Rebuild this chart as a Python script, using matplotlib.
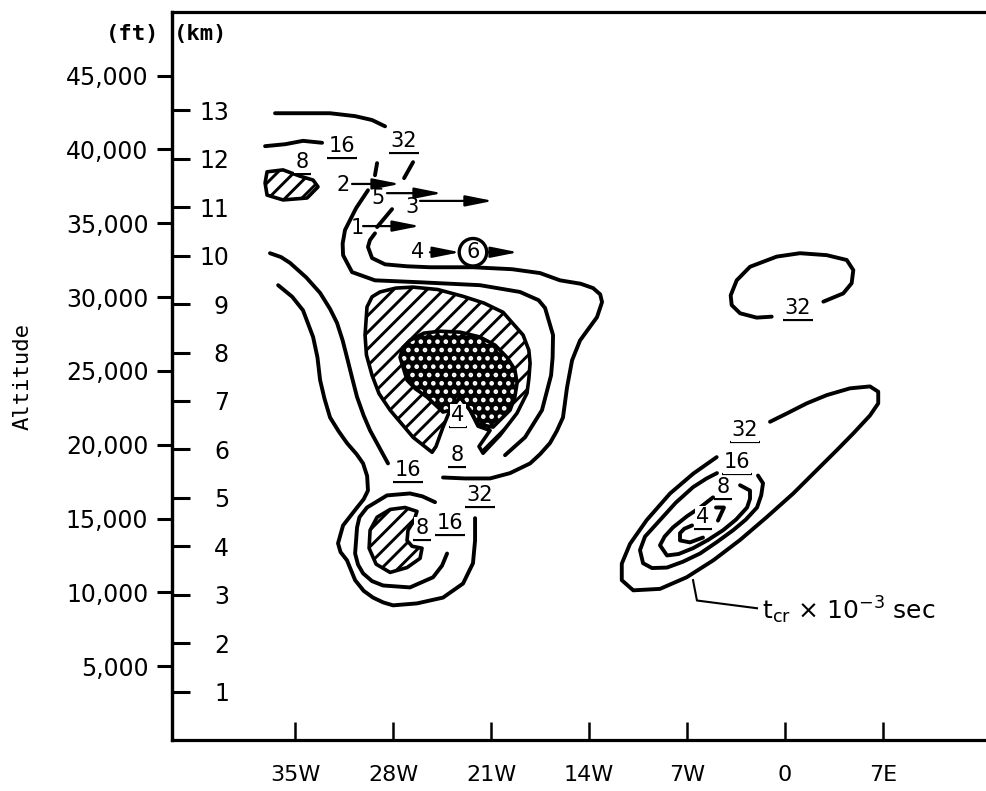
import matplotlib
matplotlib.use("Agg")
import matplotlib.pyplot as plt
from matplotlib.patches import Polygon

# ---------------------------------------------------------------------------
# axis values
# ---------------------------------------------------------------------------
LON_TICKS = [-35, -28, -21, -14, -7, 0, 7]
LON_LABELS = ["35W", "28W", "21W", "14W", "7W", "0", "7E"]
KM_TICKS = list(range(1, 14))
FT_TICKS = [5000, 10000, 15000, 20000, 25000, 30000, 35000, 40000, 45000]
FT_LABELS = ["5,000", "10,000", "15,000", "20,000", "25,000",
             "30,000", "35,000", "40,000", "45,000"]
KM_PER_FT = 0.0003048

# ---------------------------------------------------------------------------
# hand-drawn t_cr isolines, traced as (longitude, altitude km)
# ---------------------------------------------------------------------------
top_line_lon = [-36.43, -34.64, -32.5, -30.71, -29.5, -28.57]
top_line_alt = [12.94, 12.94, 12.94, 12.88, 12.80, 12.67]

upper_line_lon = [-37.14, -35.71, -34.43, -33.07]
upper_line_alt = [12.26, 12.30, 12.37, 12.33]

frag1_lon = [-29.14, -29.29]
frag1_alt = [11.91, 11.66]
frag2_lon = [-26.57, -27.21]
frag2_alt = [11.93, 11.60]
frag3_lon = [-28.07, -29.14]
frag3_alt = [10.96, 10.59]

c32_left_lon = [-36.21, -35.2, -34.43, -33.71, -33.4, -33.21, -32.9, -32.5, -31.9,
                -31.29, -30.6, -30.14, -29.85, -29.79, -30.1, -30.57, -31.57,
                -31.93, -31.75, -31.29, -30.71, -30.1, -29.43, -28.7, -28.0,
                -26.29, -24.43, -23.0, -22.29, -22.14, -22.14]
c32_left_alt = [9.39, 9.15, 8.87, 8.32, 7.9, 7.43, 7.05, 6.66, 6.38,
                6.13, 5.9, 5.71, 5.45, 5.15, 4.97, 4.80, 4.43,
                4.06, 3.88, 3.71, 3.30, 3.08, 2.94, 2.84, 2.78,
                2.82, 2.94, 3.23, 3.65, 4.12, 4.58]

c16_left_lon = [-36.79, -36.0, -35.36, -34.2, -33.21, -32.5, -32.0, -31.6, -31.29,
                -30.9, -30.57, -30.1, -29.64, -29.0, -28.36]
c16_left_alt = [10.05, 9.97, 9.85, 9.55, 9.23, 8.9, 8.61, 8.25, 7.90,
                7.45, 7.08, 6.7, 6.39, 6.05, 5.71]

outer_top_lon = [-29.29, -29.65, -29.79, -29.5, -28.57, -27.0, -25.36, -22.29,
                 -19.5, -17.5, -16.07, -14.6, -13.71, -13.2, -13.07, -13.43,
                 -14.64, -15.21, -15.57, -15.86, -16.3, -16.79, -17.5, -18.21,
                 -19.64, -21.07, -22.86, -24.43]
outer_top_alt = [10.46, 10.32, 10.18, 9.95, 9.82, 9.78, 9.76, 9.76,
                 9.72, 9.64, 9.49, 9.42, 9.33, 9.2, 9.04, 8.73,
                 8.25, 7.84, 7.28, 6.66, 6.38, 6.13, 5.9, 5.71,
                 5.51, 5.40, 5.40, 5.42]

inner_top_lon = [-29.79, -30.64, -31.43, -31.6, -31.57, -30.93, -29.29, -26.07,
                 -21.79, -18.93, -17.6, -17.14, -16.57, -16.6, -16.71, -17.36,
                 -18.57, -20.0]
inner_top_alt = [11.35, 10.98, 10.53, 10.25, 10.01, 9.66, 9.49, 9.45,
                 9.39, 9.25, 9.08, 8.92, 8.36, 7.9, 7.53, 6.81,
                 6.25, 5.88]

ring16_low_lon = [-25.0, -25.9, -26.79, -28.43, -29.86, -30.4, -30.57, -30.71,
                  -30.5, -30.14, -29.5, -28.71, -26.79, -25.14, -24.5, -24.14]
ring16_low_alt = [4.91, 5.03, 5.09, 5.05, 4.80, 4.6, 4.39, 3.85,
                  3.62, 3.44, 3.28, 3.19, 3.15, 3.36, 3.6, 3.85]

r32_upper_lon = [-0.95, -2.02, -3.21, -3.81, -3.88, -3.45, -2.5, -0.59, 1.07,
                 2.98, 4.41, 4.88, 4.76, 4.16, 2.74]
r32_upper_alt = [8.74, 8.72, 8.81, 8.98, 9.18, 9.49, 9.77, 9.98, 10.05,
                 10.01, 9.91, 9.70, 9.43, 9.22, 9.05]

r32_lower_lon = [-1.07, 0.12, 1.55, 2.98, 4.64, 6.07, 6.66, 6.66, 6.07, 4.88,
                 3.69, 2.26, 0.59, -1.31, -3.21, -5.12, -7.02, -8.93, -10.84,
                 -11.66, -11.66, -11.07, -9.88, -8.21, -6.55, -4.88]
r32_lower_alt = [6.57, 6.74, 6.95, 7.12, 7.26, 7.30, 7.19, 6.95, 6.70, 6.33,
                 5.98, 5.57, 5.09, 4.60, 4.13, 3.71, 3.36, 3.12, 3.09,
                 3.30, 3.64, 4.05, 4.54, 5.09, 5.50, 5.84]

r16_lon = [-1.93, -1.57, -1.7, -2.0, -2.8, -3.71, -4.9, -6.07, -7.3, -8.43, -9.5,
           -10.14, -10.36, -10.0, -8.93, -7.8, -6.57, -5.6, -4.86]
r16_alt = [5.46, 5.30, 5.05, 4.80, 4.55, 4.33, 4.08, 3.85, 3.68, 3.56, 3.55,
           3.65, 3.92, 4.2, 4.54, 4.9, 5.22, 5.4, 5.51]

r8_lon = [-3.21, -2.5, -2.5, -2.71, -3.5, -4.43, -5.5, -6.57, -7.6, -8.43, -8.93,
          -8.6, -8.0, -7.0, -6.07, -5.14]
r8_alt = [5.26, 5.15, 4.98, 4.80, 4.55, 4.33, 4.13, 3.96, 3.84, 3.81, 4.02,
          4.2, 4.39, 4.62, 4.80, 5.01]

r4_lon = [-6.64, -7.2, -7.5, -7.5, -6.79, -5.86]
r4_alt = [4.43, 4.36, 4.27, 4.12, 4.08, 4.18]
r4_mark_lon = [-4.93, -4.36, -4.79]
r4_mark_alt = [4.80, 4.80, 4.53]

leader_lon = [-6.57, -6.29, -2.0]
leader_alt = [3.30, 2.88, 2.72]

# shaded areas (t_cr < 8 hatched, t_cr < 4 stippled)
hatch_main_lon = [-25.21, -26.57, -28.21, -29.0, -29.5, -29.9, -30.0, -29.86,
                  -29.5, -28.93, -27.8, -26.57, -24.8, -23.0, -21.5, -20.14,
                  -18.71, -18.3, -18.21, -18.3, -18.43, -19.14, -20.36, -21.57,
                  -21.86, -21.07, -21.93, -22.5, -23.21, -23.93, -24.43, -24.93]
hatch_main_alt = [5.94, 6.25, 6.81, 7.15, 7.53, 7.95, 8.36, 8.94,
                  9.15, 9.25, 9.33, 9.35, 9.3, 9.16, 9.02, 8.83,
                  8.36, 8.05, 7.78, 7.45, 7.16, 6.75, 6.29, 5.92,
                  6.06, 6.39, 6.48, 6.81, 7.08, 6.81, 6.46, 6.06]

dots_lon = [-27.0, -27.5, -27.3, -26.79, -25.8, -24.64, -23.2, -21.79, -20.7,
            -19.86, -19.3, -19.14, -19.3, -19.64, -20.86, -21.93, -22.5,
            -23.21, -23.93, -24.43, -25.57, -26.4]
dots_alt = [7.43, 7.90, 8.1, 8.25, 8.40, 8.44, 8.42, 8.32, 8.15,
            7.90, 7.65, 7.37, 7.08, 6.81, 6.46, 6.52, 6.81,
            7.08, 6.81, 6.77, 7.08, 7.25]

hatch_low_lon = [-29.64, -29.14, -28.21, -27.14, -26.29, -26.5, -26.93, -27.0,
                 -26.64, -25.93, -26.07, -27.0, -28.21, -29.21, -29.71]
hatch_low_alt = [4.33, 4.60, 4.76, 4.80, 4.72, 4.53, 4.33, 4.12,
                 4.00, 3.96, 3.75, 3.56, 3.46, 3.63, 3.96]

hatch_top_lon = [-37.14, -37.0, -35.86, -34.64, -33.71, -33.36, -34.14, -35.86, -37.0]
hatch_top_alt = [11.50, 11.73, 11.77, 11.64, 11.56, 11.42, 11.19, 11.15, 11.25]

# contour value labels
iso_text = ["8", "16", "32", "16", "8", "4", "32", "8", "16",
            "32", "32", "16", "8", "4"]
iso_lon = [-34.5, -31.64, -27.21, -26.93, -23.43, -23.36, -21.79, -25.93, -23.93,
           0.93, -2.86, -3.43, -4.43, -5.86]
iso_alt = [11.93, 12.26, 12.37, 5.57, 5.88, 6.70, 5.05, 4.37, 4.49,
           8.91, 6.39, 5.73, 5.22, 4.60]

# aircraft tracks
track_ids = ["2", "5", "3", "1"]
track_lon0 = [-30.93, -28.43, -26.07, -30.14]
track_lon1 = [-27.5, -24.5, -20.86, -26.07]
track_alt = [11.48, 11.29, 11.13, 10.61]
track_label_lon = [-31.57, -29.07, -26.64, -30.57]
track_label_alt = [11.46, 11.19, 11.00, 10.57]

track6_lon = [-25.36, -23.21, -22.29, -21.29, -19.07]  # line start, line end, circle, line start, line end
track6_alt = 10.07
track4_label_lon = -26.21

LINE_W = 2.8
FS = 17

plt.rcParams["hatch.linewidth"] = 2.1


def underline(ax, txt, renderer):
    bb = txt.get_window_extent(renderer)
    inv = ax.transData.inverted()
    (x0, y0), (x1, _) = inv.transform([(bb.x0 - 2, bb.y0 - 2), (bb.x1 + 2, bb.y0 - 2)])
    ax.plot([x0, x1], [y0, y0], color="black", lw=1.6, solid_capstyle="butt")


def main():
    fig = plt.figure(figsize=(9.87, 7.91), dpi=100, facecolor="white")
    ax = fig.add_axes([172 / 987, 51 / 791, 815 / 987, 728 / 791])
    ax.set_xlim(-43.79, 14.43)
    ax.set_ylim(0, 15.03)

    for side in ("left", "bottom", "top"):
        ax.spines[side].set_linewidth(2.3)
    ax.spines["right"].set_visible(False)

    ax.set_xticks(LON_TICKS, labels=LON_LABELS)
    ax.tick_params(axis="x", direction="in", length=13, width=1.8, pad=18,
                   labelsize=16)
    ax.set_yticks(KM_TICKS)
    ax.tick_params(axis="y", direction="in", length=13, width=2.2, pad=-41,
                   labelsize=FS)

    sec = ax.secondary_yaxis("left", functions=(lambda k: k / KM_PER_FT,
                                                 lambda f: f * KM_PER_FT))
    sec.set_yticks(FT_TICKS, labels=FT_LABELS)
    sec.tick_params(direction="out", length=11, width=2.2, pad=6, labelsize=FS)
    sec.spines["left"].set_linewidth(2.3)

    fig.text(23 / 987, 1 - 377 / 791, "Altitude", rotation=90, ha="center",
             va="center", family="DejaVu Sans Mono", fontsize=16)
    fig.text(133 / 987, 1 - 34 / 791, "(ft)", ha="center", va="center",
             family="DejaVu Sans Mono", fontsize=16, fontweight="bold")
    fig.text(201 / 987, 1 - 34 / 791, "(km)", ha="center", va="center",
             family="DejaVu Sans Mono", fontsize=16, fontweight="bold")

    # shaded regions
    ax.add_patch(Polygon(list(zip(hatch_main_lon, hatch_main_alt)), closed=True,
                         facecolor="white", edgecolor="black", hatch="//",
                         lw=2.6, joinstyle="round", zorder=2))
    ax.add_patch(Polygon(list(zip(dots_lon, dots_alt)), closed=True,
                         facecolor="black", edgecolor="white", hatch="..",
                         lw=0, zorder=3))
    ax.add_patch(Polygon(list(zip(dots_lon, dots_alt)), closed=True,
                         fill=False, edgecolor="black", lw=2.6, joinstyle="round",
                         zorder=3))
    for lon, alt in ((hatch_low_lon, hatch_low_alt), (hatch_top_lon, hatch_top_alt)):
        ax.add_patch(Polygon(list(zip(lon, alt)), closed=True, facecolor="white",
                             edgecolor="black", hatch="//", lw=2.6,
                             joinstyle="round", zorder=2))

    lines = [
        (top_line_lon, top_line_alt), (upper_line_lon, upper_line_alt),
        (frag1_lon, frag1_alt), (frag2_lon, frag2_alt), (frag3_lon, frag3_alt),
        (c32_left_lon, c32_left_alt), (c16_left_lon, c16_left_alt),
        (outer_top_lon, outer_top_alt), (inner_top_lon, inner_top_alt),
        (ring16_low_lon, ring16_low_alt),
        (r32_upper_lon, r32_upper_alt), (r32_lower_lon, r32_lower_alt),
        (r16_lon, r16_alt), (r8_lon, r8_alt), (r4_lon, r4_alt),
        (r4_mark_lon, r4_mark_alt),
    ]
    for lon, alt in lines:
        ax.plot(lon, alt, color="black", lw=LINE_W, solid_capstyle="round",
                solid_joinstyle="round", zorder=4)
    ax.plot(leader_lon, leader_alt, color="black", lw=1.5, zorder=4)
    ax.text(leader_lon[-1] + 0.35, leader_alt[-1] - 0.05,
            r"t$_{\mathregular{cr}}$ $\times$ 10$^{\mathregular{-3}}$ sec",
            ha="left", va="center", fontsize=18)

    # aircraft tracks
    arrow_kw = dict(arrowstyle="-|>,head_length=1.1,head_width=0.22",
                    color="black", lw=1.6, shrinkA=0, shrinkB=0,
                    mutation_scale=15)
    for tid, x0, x1, y, lx, ly in zip(track_ids, track_lon0, track_lon1, track_alt,
                                      track_label_lon, track_label_alt):
        ax.annotate("", xy=(x1, y), xytext=(x0, y), arrowprops=arrow_kw, zorder=5)
        ax.text(lx, ly, tid, ha="center", va="center", fontsize=15, zorder=5)
    ax.annotate("", xy=(track6_lon[1], track6_alt), xytext=(track6_lon[0], track6_alt),
                arrowprops=arrow_kw, zorder=5)
    ax.annotate("", xy=(track6_lon[4], track6_alt), xytext=(track6_lon[3], track6_alt),
                arrowprops=arrow_kw, zorder=5)
    ax.text(track4_label_lon, track6_alt, "4", ha="center", va="center",
            fontsize=15, zorder=5)
    ax.text(track6_lon[2], track6_alt, "6", ha="center", va="center", fontsize=15,
            zorder=6, bbox=dict(boxstyle="circle,pad=0.18", fc="white",
                                ec="black", lw=2.4))

    # isoline labels (underlined)
    renderer = fig.canvas.get_renderer()
    for s, x, y in zip(iso_text, iso_lon, iso_alt):
        t = ax.text(x, y, s, ha="center", va="center", fontsize=15, zorder=6,
                    bbox=dict(boxstyle="square,pad=0.05", fc="white", ec="none"))
        underline(ax, t, renderer)

    fig.savefig("out.png", dpi=100, facecolor="white")


if __name__ == "__main__":
    main()
